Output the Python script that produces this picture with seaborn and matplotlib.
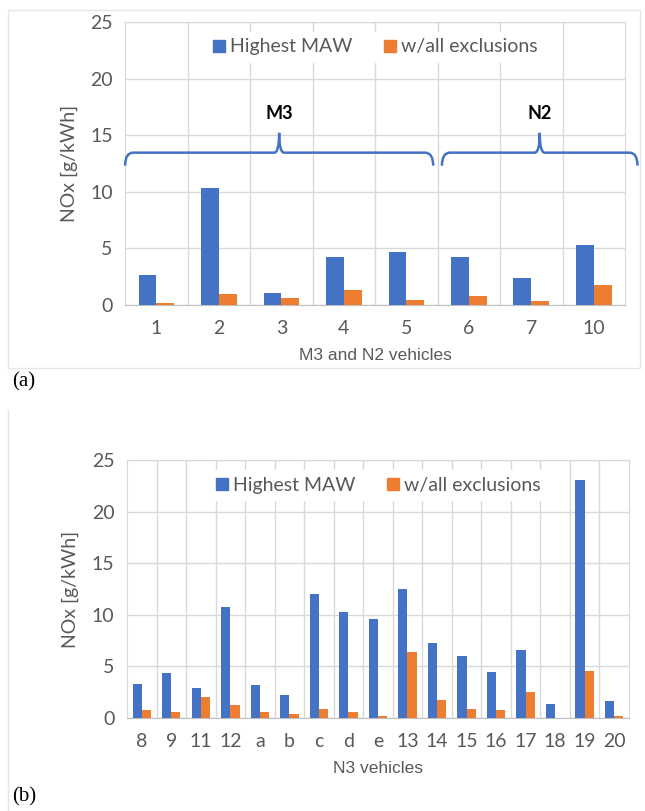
"""NOx of M3/N2 and N3 vehicles: highest MAW vs. with all exclusions"""

import pandas as pd
import matplotlib
matplotlib.use("Agg")
import matplotlib.pyplot as plt
from matplotlib.path import Path
from matplotlib.patches import PathPatch, Rectangle
from matplotlib.lines import Line2D
import seaborn as sns

SERIES = ["Highest MAW", "w/all exclusions"]
COLORS = ["#4472C4", "#ED7D31"]

# (a) M3 and N2 vehicles
mn_vehicles = ["1", "2", "3", "4", "5", "6", "7", "10"]
mn_maw = [2.65, 10.3, 1.05, 4.2, 4.65, 4.2, 2.35, 5.25]
mn_excl = [0.15, 0.95, 0.6, 1.3, 0.45, 0.8, 0.35, 1.75]

# (b) N3 vehicles
n3_vehicles = ["8", "9", "11", "12", "a", "b", "c", "d", "e",
               "13", "14", "15", "16", "17", "18", "19", "20"]
n3_maw = [3.25, 4.4, 2.95, 10.75, 3.2, 2.25, 12.0, 10.3, 9.55,
          12.5, 7.3, 6.05, 4.45, 6.6, 1.35, 23.05, 1.65]
n3_excl = [0.75, 0.6, 2.0, 1.3, 0.55, 0.4, 0.85, 0.55, 0.2,
           6.35, 1.75, 0.85, 0.8, 2.5, 0.0, 4.55, 0.2]

# brace annotations in panel (a): label, left, right (category units)
groups = [("M3", -0.5, 4.43), ("N2", 4.57, 7.7)]

GRID = "#D9D9D9"
TXT = "#595959"
SANS = ["Lato", "DejaVu Sans"]


def long_df(cats, maw, excl):
    return pd.DataFrame({
        "vehicle": cats * 2,
        "series": [SERIES[0]] * len(cats) + [SERIES[1]] * len(cats),
        "nox": maw + excl,
    })


def brace(ax, x0, x1, y, down=1.15, up=1.75, r=0.13, rt=0.08):
    xm = (x0 + x1) / 2
    verts = [(x0, y - down), (x0, y), (x0 + r, y),
             (xm - rt, y), (xm, y), (xm, y + up),
             (xm, y), (xm + rt, y),
             (x1 - r, y), (x1, y), (x1, y - down)]
    codes = [Path.MOVETO, Path.CURVE3, Path.CURVE3,
             Path.LINETO, Path.CURVE3, Path.CURVE3,
             Path.CURVE3, Path.CURVE3,
             Path.LINETO, Path.CURVE3, Path.CURVE3]
    ax.add_patch(PathPatch(Path(verts, codes), fc="none", ec=COLORS[0],
                           lw=1.8, clip_on=False, zorder=5))


def panel(ax, df, n, width, xlabel, pad):
    sns.barplot(data=df, x="vehicle", y="nox", hue="series", palette=COLORS,
                width=width, saturation=1, ax=ax, zorder=3, legend=False)
    ax.set_ylim(0, 25)
    ax.set_yticks(range(0, 26, 5))
    ax.set_xlim(-0.5, n - 0.5)
    ax.set_xticks([i + 0.5 for i in range(n - 1)], minor=True)
    ax.grid(axis="y", color=GRID, lw=1, zorder=0)
    ax.grid(axis="x", which="minor", color=GRID, lw=1, zorder=0)
    ax.set_axisbelow(True)
    for s in ["left", "top", "right"]:
        ax.spines[s].set_color(GRID)
    ax.spines["bottom"].set_color("#BFBFBF")
    ax.tick_params(which="both", length=0, colors=TXT, labelsize=14)
    ax.tick_params(axis="x", pad=pad)
    ax.tick_params(axis="y", pad=9)
    for lab in ax.get_xticklabels() + ax.get_yticklabels():
        lab.set_family(SANS)
    ax.set_ylabel("NOx [g/kWh]", color=TXT, fontsize=14, family=SANS, labelpad=9)
    ax.set_xlabel(xlabel, color=TXT, fontsize=12.5, family="Liberation Sans",
                  labelpad=8)
    handles = [Line2D([], [], marker="s", ls="", color=c, markersize=8) for c in COLORS]
    leg = ax.legend(handles, SERIES, loc="upper center", bbox_to_anchor=(0.5, 1.0),
                    ncol=2, frameon=True, facecolor="white", edgecolor="white",
                    framealpha=1, fancybox=False, handlelength=0.7,
                    handletextpad=0.2, columnspacing=1.6, borderpad=0.35,
                    prop={"family": SANS, "size": 14})
    for t in leg.get_texts():
        t.set_color(TXT)
    leg.set_zorder(4)


fig = plt.figure(figsize=(6.45, 8.11), dpi=100)
fig.patch.set_facecolor("white")

ax1 = fig.add_axes([0.194, 0.624, 0.775, 0.349])
panel(ax1, long_df(mn_vehicles, mn_maw, mn_excl), len(mn_vehicles), 0.57,
      "M3 and N2 vehicles", 11)
for name, x0, x1 in groups:
    brace(ax1, x0, x1, 13.45)
    ax1.text((x0 + x1) / 2, 16.2, name, ha="center", va="bottom",
             fontsize=13, fontweight="bold", family=SANS, color="black")

ax2 = fig.add_axes([0.197, 0.1147, 0.778, 0.318])
panel(ax2, long_df(n3_vehicles, n3_maw, n3_excl), len(n3_vehicles), 0.62,
      "N3 vehicles", 11)

fig.text(12 / 645, 1 - 382 / 811, "(a)", ha="left", va="center",
         fontsize=15, family="Liberation Serif")
fig.text(12 / 645, 1 - 797 / 811, "(b)", ha="left", va="center",
         fontsize=15, family="Liberation Serif")

# faint frame of the source figure
fig.add_artist(Rectangle((8 / 645, 1 - 368 / 811), 632 / 645, 358 / 811,
                         transform=fig.transFigure, fill=False,
                         ec="#E6E6E6", lw=1))
fig.add_artist(Line2D([8 / 645, 8 / 645], [0, 1 - 410 / 811],
                      transform=fig.transFigure, color="#E6E6E6", lw=1))

fig.savefig("out.png", dpi=100)
